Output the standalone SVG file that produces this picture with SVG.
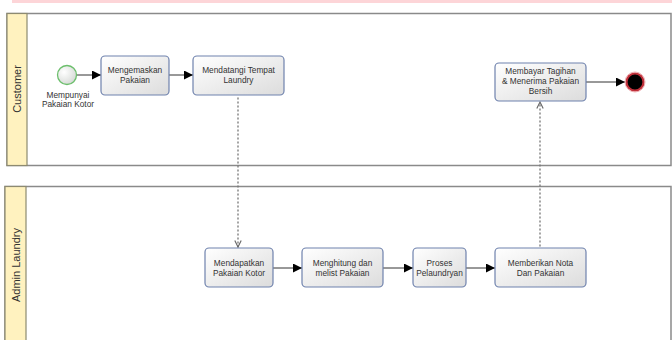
<svg xmlns="http://www.w3.org/2000/svg" width="672" height="340" viewBox="0 0 672 340">
  <defs>
    <linearGradient id="taskFill" x1="0" y1="0" x2="1" y2="1">
      <stop offset="0" stop-color="#ffffff"/>
      <stop offset="1" stop-color="#dcdcdc"/>
    </linearGradient>
    <radialGradient id="startFill" cx="0.35" cy="0.35" r="0.8">
      <stop offset="0" stop-color="#ffffff"/>
      <stop offset="1" stop-color="#d0d4d0"/>
    </radialGradient>
    <marker id="arrow" viewBox="0 0 10 10" refX="10" refY="5" markerWidth="9" markerHeight="9" markerUnits="userSpaceOnUse" orient="auto">
      <path d="M0,0 L10,5 L0,10 Z" fill="#000"/>
    </marker>
    <marker id="openArrow" viewBox="0 0 10 10" refX="9" refY="5" markerWidth="8" markerHeight="8" markerUnits="userSpaceOnUse" orient="auto">
      <path d="M1,1 L9,5 L1,9" fill="none" stroke="#666" stroke-width="1.4"/>
    </marker>
  </defs>
  <style>
    .pool { fill: #ffffff; stroke: #8a8a8a; stroke-width: 1.5; }
    .header { fill: #fff2bf; stroke: #8d8a70; stroke-width: 1.2; }
    .laneLabel { font-family: "Liberation Sans", Arial, sans-serif; font-size: 11px; fill: #333; text-anchor: middle; }
    .task rect { fill: url(#taskFill); stroke: #6f82ad; stroke-width: 1.2; }
    .label { font-family: "Liberation Sans", Arial, sans-serif; font-size: 8.3px; fill: #333; text-anchor: middle; }
    .flow { stroke: #333; stroke-width: 1; fill: none; marker-end: url(#arrow); }
    .msg { stroke: #777; stroke-width: 1.3; fill: none; stroke-dasharray: 1 3; stroke-linecap: round; marker-end: url(#openArrow); }
  </style>

  <!-- top band -->
  <rect x="12" y="0" width="660" height="3" fill="#fdd5d8"/>

  <!-- pools -->
  <g id="pool-customer">
    <rect class="pool" x="7" y="13.5" width="664" height="152"/>
    <rect class="header" x="7" y="13.5" width="20" height="152"/>
    <text class="laneLabel" transform="translate(21,89) rotate(-90)">Customer</text>
  </g>
  <g id="pool-admin">
    <rect class="pool" x="5" y="186.5" width="666" height="170"/>
    <rect class="header" x="5" y="186.5" width="21" height="170"/>
    <text class="laneLabel" transform="translate(19.5,265) rotate(-90)">Admin Laundry</text>
  </g>

  <!-- connectors -->
  <g id="connectors">
    <line class="flow" x1="77" y1="75" x2="101" y2="75"/>
    <line class="flow" x1="169" y1="75" x2="193" y2="75"/>
    <line class="flow" x1="586" y1="82" x2="625" y2="82"/>
    <line class="flow" x1="273" y1="268" x2="302" y2="268"/>
    <line class="flow" x1="383" y1="268" x2="413" y2="268"/>
    <line class="flow" x1="466" y1="268" x2="495" y2="268"/>
    <line class="msg" x1="238" y1="98" x2="238" y2="247"/>
    <line class="msg" x1="540" y1="246" x2="540" y2="102"/>
  </g>

  <!-- customer lane nodes -->
  <g id="start">
    <circle cx="67" cy="75" r="9.5" fill="url(#startFill)" stroke="#6cbf6c" stroke-width="1.3"/>
    <text class="label" x="68" y="98">Mempunyai</text>
    <text class="label" x="68" y="107">Pakaian Kotor</text>
  </g>
  <g id="task-mengemaskan" class="task">
    <rect x="101" y="56" width="68" height="39" rx="4"/>
    <text class="label" x="135" y="73">Mengemaskan</text>
    <text class="label" x="135" y="83">Pakaian</text>
  </g>
  <g id="task-mendatangi" class="task">
    <rect x="193" y="56" width="91" height="39" rx="4"/>
    <text class="label" x="238.5" y="73">Mendatangi Tempat</text>
    <text class="label" x="238.5" y="83">Laundry</text>
  </g>
  <g id="task-membayar" class="task">
    <rect x="495" y="63" width="91" height="38" rx="4"/>
    <text class="label" x="540.5" y="74">Membayar Tagihan</text>
    <text class="label" x="540.5" y="84">&amp; Menerima Pakaian</text>
    <text class="label" x="540.5" y="94">Bersih</text>
  </g>
  <g id="end">
    <circle cx="635" cy="82" r="8.5" fill="#000" stroke="#c0303a" stroke-width="2.2"/>
    <circle cx="635" cy="82" r="10" fill="none" stroke="#e89aa0" stroke-width="0.8"/>
  </g>

  <!-- admin lane nodes -->
  <g id="task-mendapatkan" class="task">
    <rect x="205" y="248" width="68" height="39" rx="4"/>
    <text class="label" x="239" y="266">Mendapatkan</text>
    <text class="label" x="239" y="276">Pakaian Kotor</text>
  </g>
  <g id="task-menghitung" class="task">
    <rect x="302" y="248" width="81" height="39" rx="4"/>
    <text class="label" x="342.5" y="266">Menghitung dan</text>
    <text class="label" x="342.5" y="276">melist Pakaian</text>
  </g>
  <g id="task-proses" class="task">
    <rect x="413" y="248" width="53" height="39" rx="4"/>
    <text class="label" x="439.5" y="266">Proses</text>
    <text class="label" x="439.5" y="276">Pelaundryan</text>
  </g>
  <g id="task-memberikan" class="task">
    <rect x="495" y="248" width="91" height="39" rx="4"/>
    <text class="label" x="540.5" y="266">Memberikan Nota</text>
    <text class="label" x="540.5" y="276">Dan Pakaian</text>
  </g>
</svg>
